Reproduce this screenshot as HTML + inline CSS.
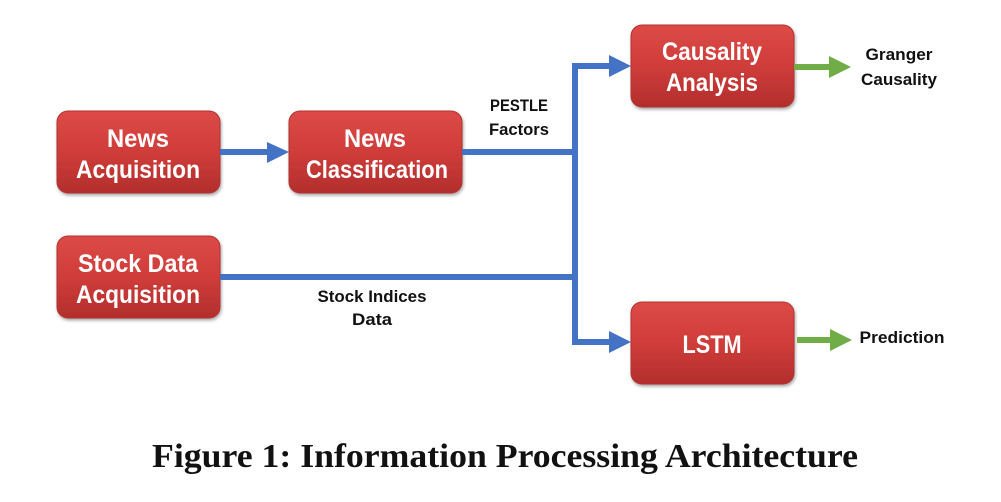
<!DOCTYPE html>
<html><head><meta charset="utf-8"><style>
html,body{margin:0;padding:0;background:#fff;}
svg{display:block;}
.bt{font-family:"Liberation Sans",sans-serif;font-weight:bold;fill:#fff;font-size:25px;text-anchor:middle;}
.lb{font-family:"Liberation Sans",sans-serif;font-weight:bold;fill:#111;font-size:17px;text-anchor:middle;}
</style></head><body>
<svg width="1001" height="502" viewBox="0 0 1001 502" xmlns="http://www.w3.org/2000/svg">
<defs>
<linearGradient id="g" x1="0" y1="0" x2="0" y2="1">
<stop offset="0" stop-color="#dc4a47"/><stop offset="0.5" stop-color="#cf3d3a"/><stop offset="1" stop-color="#b22e2c"/>
</linearGradient>
<filter id="s" x="-10%" y="-10%" width="130%" height="130%"><feDropShadow dx="1" dy="2" stdDeviation="1.5" flood-color="#000" flood-opacity="0.35"/></filter>
</defs>
<g filter="url(#s)" fill="url(#g)" stroke="#b33330" stroke-width="1">
<rect x="57" y="111" width="163" height="82" rx="11"/>
<rect x="289" y="111" width="173" height="82" rx="11"/>
<rect x="57" y="236" width="163" height="82" rx="11"/>
<rect x="631" y="25" width="163" height="82" rx="11"/>
<rect x="631" y="302" width="163" height="82" rx="11"/>
</g>
<g fill="none" stroke="#4472c4" stroke-width="6">
<line x1="220" y1="152" x2="270" y2="152"/>
<polyline points="462,152 575,152"/>
<polyline points="220,277 575,277"/>
<polyline points="612,66 575,66 575,342 612,342"/>
</g>
<g fill="#4472c4">
<polygon points="267,142 289,152 267,163"/>
<polygon points="609,55 631,66 609,77"/>
<polygon points="609,331 631,342 609,353"/>
</g>
<g stroke="#70ad47" stroke-width="6"><line x1="794" y1="67" x2="832" y2="67"/><line x1="797" y1="340" x2="833" y2="340"/></g>
<g fill="#70ad47"><polygon points="829,56 851,67 829,78"/><polygon points="830,329 852,340 830,351"/></g>
<text class="bt" x="138" y="147" textLength="62" lengthAdjust="spacingAndGlyphs">News</text>
<text class="bt" x="138" y="178" textLength="124" lengthAdjust="spacingAndGlyphs">Acquisition</text>
<text class="bt" x="375" y="147" textLength="62" lengthAdjust="spacingAndGlyphs">News</text>
<text class="bt" x="377" y="178" textLength="142" lengthAdjust="spacingAndGlyphs">Classification</text>
<text class="bt" x="138" y="272" textLength="120" lengthAdjust="spacingAndGlyphs">Stock Data</text>
<text class="bt" x="138" y="303" textLength="124" lengthAdjust="spacingAndGlyphs">Acquisition</text>
<text class="bt" x="712" y="60" textLength="100" lengthAdjust="spacingAndGlyphs">Causality</text>
<text class="bt" x="712" y="91" textLength="92" lengthAdjust="spacingAndGlyphs">Analysis</text>
<text class="bt" x="712" y="353" textLength="59" lengthAdjust="spacingAndGlyphs">LSTM</text>
<text class="lb" x="519" y="111" textLength="58" lengthAdjust="spacingAndGlyphs">PESTLE</text>
<text class="lb" x="519" y="135" textLength="60" lengthAdjust="spacingAndGlyphs">Factors</text>
<text class="lb" x="372" y="302" textLength="109" lengthAdjust="spacingAndGlyphs">Stock Indices</text>
<text class="lb" x="372" y="325" textLength="40" lengthAdjust="spacingAndGlyphs">Data</text>
<text class="lb" x="899" y="60" textLength="67" lengthAdjust="spacingAndGlyphs">Granger</text>
<text class="lb" x="899" y="85" textLength="76" lengthAdjust="spacingAndGlyphs">Causality</text>
<text class="lb" x="902" y="343" textLength="85" lengthAdjust="spacingAndGlyphs">Prediction</text>
<text x="505" y="467" text-anchor="middle" font-family="Liberation Serif, serif" font-weight="bold" font-size="34" fill="#111" textLength="706" lengthAdjust="spacingAndGlyphs">Figure 1: Information Processing Architecture</text>
</svg>
</body></html>
